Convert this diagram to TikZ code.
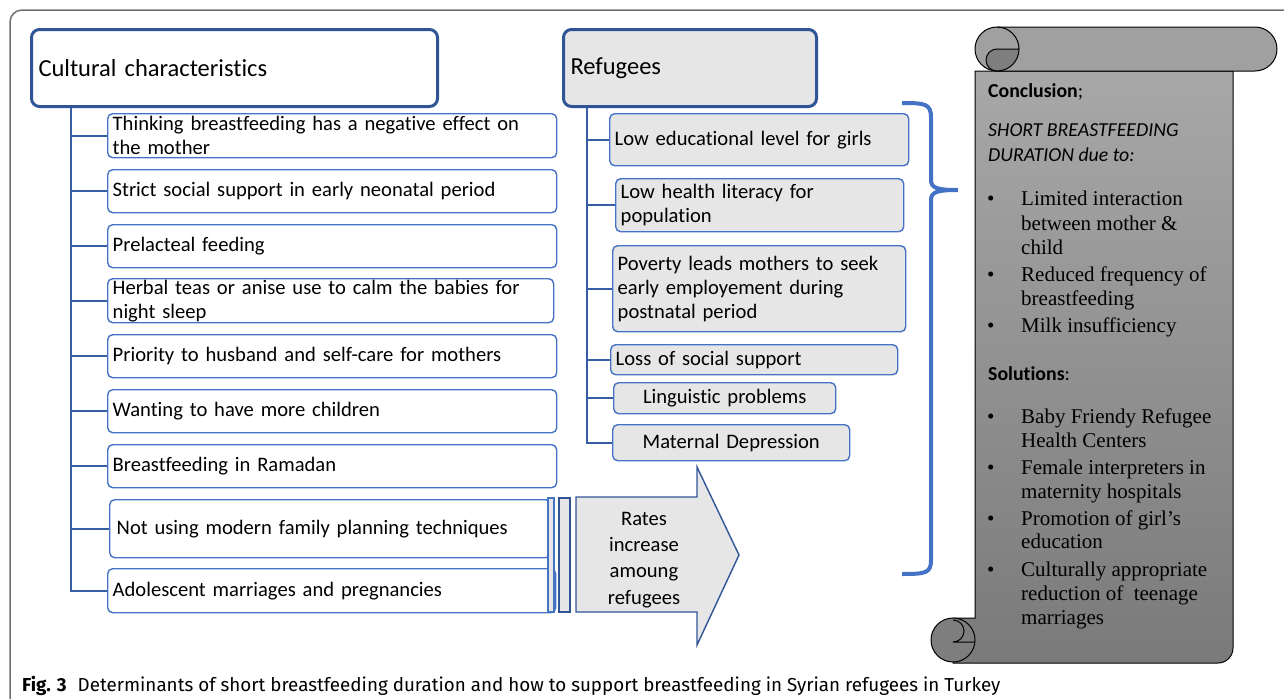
\documentclass[tikz,border=0pt]{standalone}
\usepackage{fontspec}
\setmainfont{Carlito}[Ligatures=NoCommon]
\newfontfamily\timesfont{Liberation Serif}
\newfontfamily\capfont{Fira Sans}[Ligatures=NoCommon]

\definecolor{hdrblue}{HTML}{2F5597}
\definecolor{boxblue}{HTML}{4472C4}
\definecolor{boxgray}{HTML}{E7E6E6}
\definecolor{framegray}{HTML}{707070}
\definecolor{scrolltop}{HTML}{A8A8A8}
\definecolor{scrollbot}{HTML}{7A7A7A}
\definecolor{curldark}{HTML}{7E7E7E}

\begin{document}
\begin{tikzpicture}[x=1pt,y=-1pt,
  hdr/.style={draw=hdrblue, line width=3pt, rounded corners=8pt, anchor=north west,
    minimum height=77pt, inner xsep=7pt, align=left, font=\fontsize{24.5}{29}\selectfont},
  cbox/.style={draw=boxblue, line width=1.4pt, fill=white, rounded corners=5pt, anchor=north west,
    inner xsep=5pt, inner ysep=0pt, text width=439pt, minimum height=43pt, align=left,
    font=\fontsize{20.6}{24}\selectfont},
  rbox/.style={cbox, fill=boxgray},
  tree/.style={draw=hdrblue!70!boxblue, line width=2pt},
  sctext/.style={anchor=base west, inner sep=0pt, font=\timesfont\fontsize{21}{25}\selectfont},
  schead/.style={anchor=base west, inner sep=0pt, font=\fontsize{19.8}{25}\selectfont}]
\useasboundingbox (0,0) rectangle (1284,699);

% frame round the figure
\draw[framegray, line width=1.5pt, rounded corners=12pt] (1284,10) -- (10,10) -- (10,699);

% cultural side
\node[hdr, fill=white, text width=392pt] (cc) at (30,28) {Cultural characteristics};
\node[cbox, minimum height=44pt] (c1) at (107,113) {Thinking breastfeeding has a negative effect on\\the mother};
\node[cbox] (c2) at (107,169) {Strict social support in early neonatal period};
\node[cbox] (c3) at (107,224) {Prelacteal feeding};
\node[cbox, text width=436pt, minimum height=44pt] (c4) at (107,278) {Herbal teas or anise use to calm the babies for\\night sleep};
\node[cbox] (c5) at (107,334) {Priority to husband and self-care for mothers};
\node[cbox] (c6) at (107,389) {Wanting to have more children};
\node[cbox] (c7) at (107,444) {Breastfeeding in Ramadan};
\node[cbox, inner xsep=7pt, text width=427pt, minimum height=58pt] (c8) at (109,499) {Not using modern family planning techniques};
\node[cbox, text width=438pt, minimum height=44pt] (c9) at (107,568) {Adolescent marriages and pregnancies};

\coordinate (ct) at ([xshift=41pt]cc.south west);
\foreach \n in {1,...,9}
  \draw[tree] (ct) |- (c\n.west);

% refugees side
\node[hdr, fill=boxgray, text width=239pt] (rf) at (562,28) {Refugees};
\node[rbox, text width=289pt, minimum height=52pt] (r1) at (609,113) {Low educational level for girls};
\node[rbox, text width=278pt, minimum height=53pt] (r2) at (615,178) {Low health literacy for\\population};
\node[rbox, text width=283pt, minimum height=86pt] (r3) at (612,245) {Poverty leads mothers to seek\\early employement during\\postnatal period};
\node[rbox, text width=277pt, minimum height=30pt] (r4) at (610,344) {Loss of social support};
\node[rbox, text width=212pt, minimum height=31pt, align=center] (r5) at (613,382) {Linguistic problems};
\node[rbox, text width=227pt, minimum height=36pt, align=center] (r6) at (612,424) {Maternal Depression};

\coordinate (rt) at ([xshift=25pt]rf.south west);
\foreach \n in {1,...,6}
  \draw[tree] (rt) |- (r\n.west);

% thin bars and the big arrow
\draw[boxblue, line width=1.2pt, fill=boxgray] (548,498) rectangle (554,612);
\draw[hdrblue, line width=1.2pt, fill=boxgray] (559,498) rectangle (570,612);
\draw[hdrblue, line width=1.4pt, fill=boxgray] (576,497) -- (697,497) -- (697,467) -- (739,555)
  -- (697,645) -- (697,612) -- (576,612) -- cycle;
\node[align=center, font=\fontsize{20.6}{26.3}\selectfont] (rates) at (644,560) {Rates\\increase\\amoung\\refugees};

% brace
\draw[boxblue, line width=4pt] (902,103) .. controls (926,103) and (931,104) .. (931,118)
  -- (931,180) .. controls (931,188) and (937,190) .. (958,190)
  .. controls (937,190) and (931,192) .. (931,200)
  -- (931,560) .. controls (931,573) and (926,574) .. (902,574);

% scroll
\draw[line width=1pt, top color=scrolltop, bottom color=scrollbot] (975,71) -- (1233,71) -- (1233,648)
  arc[start angle=0, end angle=-90, radius=15pt] -- (953,663) -- (953,618) -- (975,618) -- cycle;
\draw[line width=1pt, fill=curldark] (953,640) circle[radius=22pt];
\draw[line width=1pt] (953,620) arc[start angle=90, end angle=-90, radius=11pt] -- (975,642);
\draw[line width=1pt, fill=scrolltop!95!black] (997,27) -- (1255,27) arc[start angle=90, end angle=-90, radius=22pt]
  -- (997,71) arc[start angle=270, end angle=90, radius=22pt] -- cycle;
\draw[line width=1pt] (997,27) arc[start angle=90, end angle=0, radius=22pt];
\draw[line width=1pt, fill=curldark] (997,49) -- (1019,49) arc[start angle=0, end angle=-90, radius=22pt]
  arc[start angle=270, end angle=90, radius=11pt] -- cycle;

\node[schead] (conc) at (988,97) {\textbf{Conclusion};};
\node[schead] (short1) at (988,136) {\textit{SHORT BREASTFEEDING}};
\node[schead] (short2) at (988,161) {\textit{DURATION due to:}};
\node[schead] (sol) at (988,380) {\textbf{Solutions}:};
\foreach \yy in {205,281,332,423,474,525,576}
  \node[sctext] (b\yy) at (987,\yy) {\textbullet};
\foreach \yy/\txt in {205/Limited interaction, 230/between mother \&, 254/child,
    281/Reduced frequency of, 305/breastfeeding, 332/Milk insufficiency,
    423/Baby Friendy Refugee, 447/Health Centers, 474/Female interpreters in,
    498/maternity hospitals, 525/Promotion of girl’s, 548/education,
    576/Culturally appropriate, 600/reduction of \ teenage, 624/marriages}
  \node[sctext] (t\yy) at (1021,\yy) {\txt};

% caption
\node[anchor=base west, inner sep=0pt, font=\capfont\fontsize{18.8}{23}\selectfont] (cap) at (22,691)
  {\textbf{Fig. 3}\hspace{11pt}Determinants of short breastfeeding duration and how to support breastfeeding in Syrian refugees in Turkey};
\end{tikzpicture}
\end{document}
